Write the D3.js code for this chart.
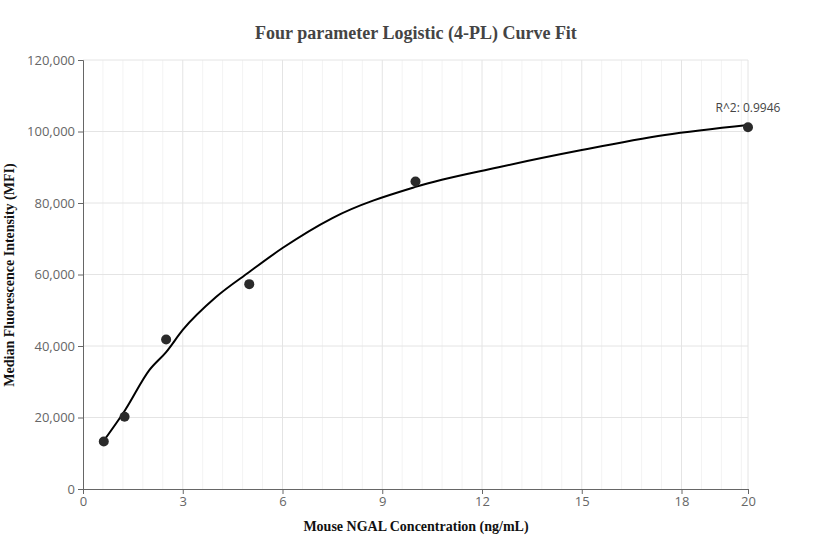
<!DOCTYPE html><html><head><meta charset="utf-8"><script src="https://cdn.jsdelivr.net/npm/d3@7"></script>
<style>body{margin:0;background:#fff}</style></head><body><svg id="c" width="832" height="560"></svg>
<script>
const pointsX=[0.625,1.25,2.5,5,10,20];
const pointsY=[13300,20200,41800,57300,86000,101200];
const curveX=[0.625,1.25,2,2.5,3,4,5,6,7.5,10,12.5,15,17.5,20];
const curveY=[13500,21800,33300,38300,44500,53700,60700,67400,75800,84500,90000,94800,99000,101800];
const xTicks=[0,3,6,9,12,15,18,20];
const yTicks=[0,20000,40000,60000,80000,100000,120000];
const svg=d3.select("#c");
const x=d3.scaleLinear().domain([0,20]).range([83,748]);
const y=d3.scaleLinear().domain([0,120000]).range([489,60]);
const minor=d3.range(0,20.001,0.6).filter(v=>Math.abs(v/3-Math.round(v/3))>1e-6);
svg.selectAll(".mn").data(minor).join("line").attr("x1",d=>x(d)).attr("x2",d=>x(d)).attr("y1",60).attr("y2",489).attr("stroke","#f3f3f3");
svg.selectAll(".gx").data(xTicks.slice(1)).join("line").attr("x1",d=>x(d)).attr("x2",d=>x(d)).attr("y1",60).attr("y2",489).attr("stroke","#e4e4e4");
svg.selectAll(".gy").data(yTicks.slice(1)).join("line").attr("x1",83).attr("x2",748).attr("y1",d=>y(d)).attr("y2",d=>y(d)).attr("stroke","#e4e4e4");
const ax=svg.append("g").attr("transform","translate(0,489)").call(d3.axisBottom(x).tickValues(xTicks).tickSize(5).tickFormat(d3.format("d")));
const ay=svg.append("g").attr("transform","translate(83,0)").call(d3.axisLeft(y).tickValues(yTicks).tickSize(5).tickFormat(d3.format(",")));
[ax,ay].forEach(a=>{a.selectAll("path,line").attr("stroke","#666");a.selectAll("text").attr("fill","#666").style("font-family","Open Sans, sans-serif").style("font-size","13px");});
svg.append("path").datum(curveX.map((v,i)=>[v,curveY[i]])).attr("d",d3.line().x(d=>x(d[0])).y(d=>y(d[1])).curve(d3.curveMonotoneX)).attr("fill","none").attr("stroke","#000").attr("stroke-width",2);
svg.selectAll(".pt").data(pointsX).join("circle").attr("cx",d=>x(d)).attr("cy",(d,i)=>y(pointsY[i])).attr("r",5).attr("fill","#2a2a2a");
svg.append("text").attr("x",x(20)).attr("y",y(101200)-15).attr("text-anchor","middle").attr("fill","#444").style("font-family","Open Sans, sans-serif").style("font-size","12px").text("R^2: 0.9946");
svg.append("text").attr("x",416).attr("y",39).attr("text-anchor","middle").attr("fill","#444").style("font-family","Liberation Serif, serif").style("font-weight","bold").style("font-size","18px").text("Four parameter Logistic (4-PL) Curve Fit");
svg.append("text").attr("x",416).attr("y",531).attr("text-anchor","middle").attr("fill","#111").style("font-family","Liberation Serif, serif").style("font-weight","bold").style("font-size","14px").text("Mouse NGAL Concentration (ng/mL)");
svg.append("text").attr("transform","translate(14,275) rotate(-90)").attr("text-anchor","middle").attr("fill","#111").style("font-family","Liberation Serif, serif").style("font-weight","bold").style("font-size","14px").text("Median Fluorescence Intensity (MFI)");
</script></body></html>
